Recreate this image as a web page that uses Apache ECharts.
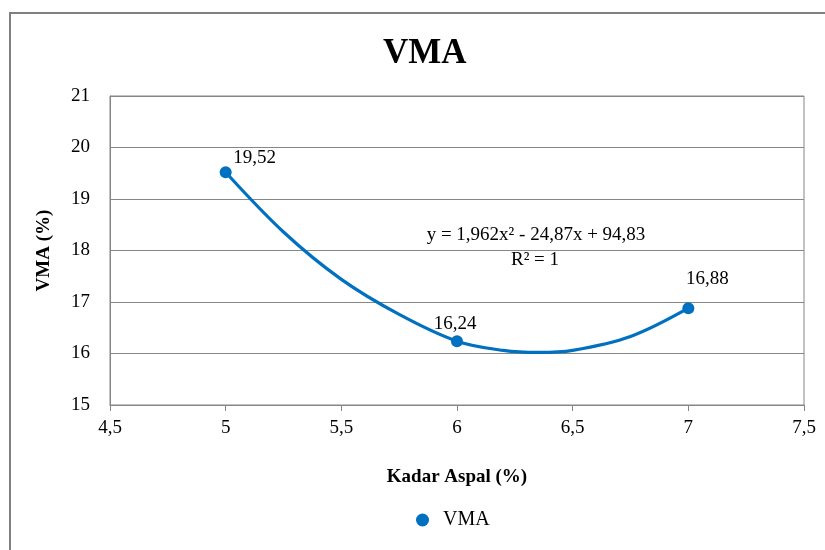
<!DOCTYPE html>
<html>
<head>
<meta charset="utf-8">
<script src="https://cdn.jsdelivr.net/npm/echarts@6/dist/echarts.min.js"></script>
<style>
html,body{margin:0;padding:0;background:#fff;}
#chart{width:825px;height:550px;}
</style>
</head>
<body>
<div id="chart"></div>
<script>
// measured data points
const xValues = [5, 6, 7];
const vmaValues = [19.52, 16.24, 16.88];
// polynomial trendline, points
const trendX = [5, 5.25, 5.5, 5.75, 6, 6.2, 6.35, 6.5, 6.75, 7];
const trendY = [19.52, 18.36, 17.44, 16.76, 16.24, 16.06, 16.02, 16.06, 16.33, 16.88];
const labelOffsets = [[29, 9], [-2, 6], [19, -6]];
const xTicks = [4.5, 5, 5.5, 6, 6.5, 7, 7.5];
const yTicks = [15, 16, 17, 18, 19, 20, 21];
const titleText = 'VMA';
const seriesName = 'VMA';
const xName = 'Kadar Aspal (%)';
const yName = 'VMA (%)';
const equationText = 'y = 1,962x\u00B2 - 24,87x + 94,83';
const r2Text = 'R\u00B2 = 1';

const fmt = v => String(v).replace('.', ',');
const serif = 'Liberation Serif, Times New Roman, serif';
const lineColor = '#0070C0';
const axisGray = '#868686';

const chart = echarts.init(document.getElementById('chart'), null, {renderer: 'canvas'});
chart.setOption({
  backgroundColor: '#fff',
  animation: false,
  title: {
    text: titleText,
    left: 378,
    top: 31,
    textStyle: {fontFamily: serif, fontSize: 35, fontWeight: 'bold', color: '#000'}
  },
  legend: {
    data: [seriesName],
    left: 411,
    top: 505,
    icon: 'circle',
    itemWidth: 13,
    itemHeight: 13,
    itemStyle: {opacity: 1},
    textStyle: {fontFamily: serif, fontSize: 20, color: '#000', padding: [0, 0, 0, 9]}
  },
  grid: {
    left: 110, right: 21, top: 96, bottom: 145,
    show: true, borderColor: axisGray, borderWidth: 1, backgroundColor: 'transparent'
  },
  xAxis: {
    type: 'value',
    min: xTicks[0], max: xTicks[xTicks.length - 1], interval: 0.5,
    name: xName, nameLocation: 'middle', nameGap: 63,
    nameTextStyle: {fontFamily: serif, fontSize: 19, fontWeight: 'bold', color: '#000'},
    axisLine: {show: true, lineStyle: {color: axisGray, width: 1}},
    axisTick: {show: true, length: 6, lineStyle: {color: axisGray}},
    axisLabel: {fontFamily: serif, fontSize: 19, color: '#000', margin: 14, formatter: v => fmt(v)},
    splitLine: {show: false}
  },
  yAxis: {
    type: 'value',
    min: yTicks[0], max: yTicks[yTicks.length - 1], interval: 1,
    name: yName, nameLocation: 'middle', nameGap: 56,
    nameTextStyle: {fontFamily: serif, fontSize: 19, fontWeight: 'bold', color: '#000'},
    axisLine: {show: true, lineStyle: {color: axisGray, width: 1}},
    axisTick: {show: false},
    axisLabel: {fontFamily: serif, fontSize: 19, color: '#000', margin: 20, formatter: v => fmt(v)},
    splitLine: {show: true, lineStyle: {color: axisGray, width: 1}}
  },
  graphic: [
    {type: 'rect', silent: true, shape: {x: 10, y: 13, width: 900, height: 700},
     style: {fill: 'none', stroke: '#808080', lineWidth: 2}},
    {type: 'text', x: 536, y: 235, style: {text: equationText, font: '19px ' + serif, fill: '#000', align: 'center', verticalAlign: 'middle'}},
    {type: 'text', x: 535, y: 260, style: {text: r2Text, font: '19px ' + serif, fill: '#000', align: 'center', verticalAlign: 'middle'}}
  ],
  series: [{
    name: 'trend',
    type: 'line',
    data: trendX.map((x, i) => [x, trendY[i]]),
    smooth: 0.35,
    showSymbol: false,
    symbol: 'none',
    silent: true,
    lineStyle: {color: lineColor, width: 3.2},
    z: 2
  }, {
    name: seriesName,
    type: 'scatter',
    data: xValues.map((x, i) => ({
      value: [x, vmaValues[i]],
      label: {offset: labelOffsets[i]}
    })),
    symbol: 'circle',
    symbolSize: 12,
    itemStyle: {color: lineColor, opacity: 1},
    label: {
      show: true, position: 'top', distance: 8,
      fontFamily: serif, fontSize: 19, color: '#000', opacity: 1,
      formatter: p => fmt(p.value[1])
    },
    z: 3
  }]
});
</script>
</body>
</html>
